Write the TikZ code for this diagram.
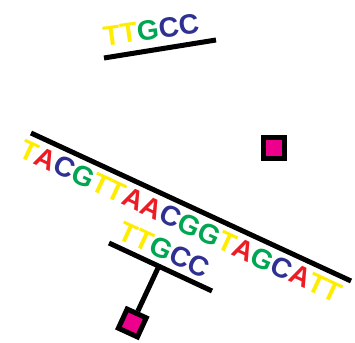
\documentclass[tikz,border=0pt]{standalone}
\usepackage{fontspec}
\setmainfont{Liberation Sans}
\definecolor{nT}{RGB}{255,237,0}
\definecolor{nA}{RGB}{237,28,36}
\definecolor{nC}{RGB}{46,49,146}
\definecolor{nG}{RGB}{0,166,81}
\definecolor{tagpink}{RGB}{236,0,140}
\newcommand{\bT}{\textcolor{nT}{T}}
\newcommand{\bA}{\textcolor{nA}{A}}
\newcommand{\bC}{\textcolor{nC}{C}}
\newcommand{\bG}{\textcolor{nG}{G}}
\begin{document}
\begin{tikzpicture}[x=1pt,y=-1pt,
  seq/.style={font=\bfseries\fontsize{28}{28}\selectfont, inner sep=0pt},
  bar/.style={line width=5pt},
  tag/.style={draw=black, fill=tagpink, line width=5pt, minimum size=21pt, inner sep=0pt}]
\useasboundingbox (0,0) rectangle (355,342);
% top primer
\coordinate (t1) at (104,58);
\coordinate (t2) at (216,40);
\draw[bar] (t1) -- (t2);
\node[seq, rotate=8] (top) at (151,30) {\bT\bT\bG\bC\bC};
% long strand
\coordinate (l1) at (31,133);
\coordinate (l2) at (351,281);
\draw[bar] (l1) -- (l2);
\node[seq, rotate=-24.8] (long) at (181,221) {\bT\bA\bC\bG\bT\bT\bA\bA\bC\bG\bG\bT\bA\bG\bC\bA\bT\bT};
% bound primer
\coordinate (s1) at (109,243);
\coordinate (s2) at (212,291);
\draw[bar] (s1) -- (s2);
\node[seq, rotate=-24.5] (short) at (164.5,250) {\bT\bT\bG\bC\bC};
\coordinate (stemtop) at (158,268);
\node[tag, rotate=-24.7] (sq2) at (132.3,323) {};
\draw[bar] (stemtop) -- (sq2);
\node[tag] (sq1) at (274,148) {};
\end{tikzpicture}
\end{document}
